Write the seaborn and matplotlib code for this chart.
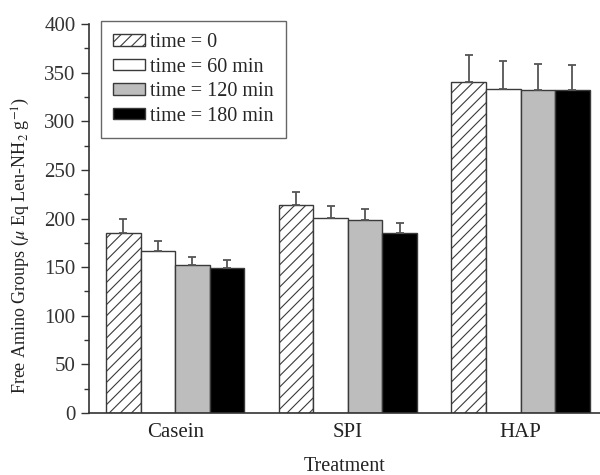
import pandas as pd
import matplotlib
matplotlib.use("Agg")
import matplotlib.pyplot as plt
import seaborn as sns

# data
treatments = ["Casein", "SPI", "HAP"]
times = ["time = 0", "time = 60 min", "time = 120 min", "time = 180 min"]
means = [
    [185, 167, 152, 149],   # Casein
    [214, 201, 198, 185],   # SPI
    [340, 333, 332, 332],   # HAP
]
errors = [
    [15, 10, 8, 8],
    [13, 12, 12, 10],
    [28, 29, 27, 26],
]
colors = ["white", "white", "#bdbdbd", "black"]

rows = []
for i, t in enumerate(treatments):
    for j, h in enumerate(times):
        rows.append({"Treatment": t, "Time": h, "Value": means[i][j]})
df = pd.DataFrame(rows)

sns.set_style("ticks")
plt.rcParams["font.family"] = ["Liberation Serif", "DejaVu Serif"]
plt.rcParams["mathtext.fontset"] = "stix"
plt.rcParams["hatch.linewidth"] = 0.8

fig = plt.figure(figsize=(6, 4.75), dpi=100)
ax = fig.add_axes([0.148, 0.1305, 0.852, 0.819])

sns.barplot(data=df, x="Treatment", y="Value", hue="Time", order=treatments,
            hue_order=times, palette=colors, edgecolor="#3a3a3a", linewidth=1.0,
            errorbar=None, width=0.8, legend=False, ax=ax)

bar_groups = list(ax.containers)

# hatch on the first series and upward error bars
for j, cont in enumerate(bar_groups):
    for i, bar in enumerate(cont.patches):
        if j == 0:
            bar.set_hatch("///")
        xc = bar.get_x() + bar.get_width() / 2
        ax.errorbar(xc, bar.get_height(), yerr=[[0], [errors[i][j]]], fmt="none",
                    ecolor="#555555", elinewidth=1.3, capsize=3, capthick=1.3, zorder=1)

ax.legend(bar_groups, times, loc="upper left", bbox_to_anchor=(0.023, 1.008),
          borderaxespad=0, fancybox=False, framealpha=1, edgecolor="#666666",
          fontsize=14.5, handlelength=1.6, handleheight=0.5, handletextpad=0.25,
          labelspacing=0.28, borderpad=0.6)

ax.set_xlim(-0.5, 2.46)
ax.set_ylim(0, 400)
ax.set_yticks(range(0, 401, 50))
ax.set_yticks(range(25, 400, 50), minor=True)
ax.tick_params(axis="y", which="major", length=6, width=1, labelsize=15, colors="#333333")
ax.tick_params(axis="y", which="minor", length=3.5, width=1, color="#333333")
ax.tick_params(axis="x", length=0, labelsize=15, pad=7, colors="#222222")
sns.despine(ax=ax)
for s in ["left", "bottom"]:
    ax.spines[s].set_color("#333333")
    ax.spines[s].set_linewidth(1.2)

ax.set_xlabel("Treatment", fontsize=14.5, labelpad=11, color="#222222")
ax.set_ylabel(r"Free Amino Groups ($\mu$ Eq Leu-NH$_2$ g$^{-1}$)", fontsize=13,
              color="#222222")
ax.yaxis.set_label_coords(-0.112, 0.43)

fig.savefig("out.png", dpi=100)
